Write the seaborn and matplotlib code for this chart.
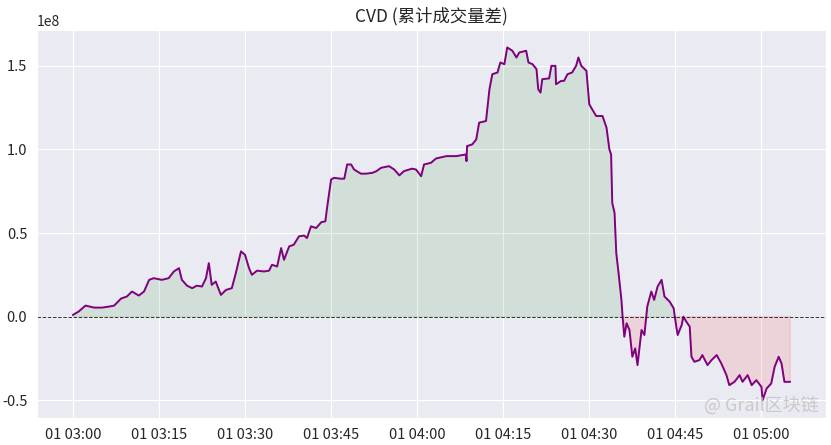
import numpy as np
import pandas as pd
import matplotlib
matplotlib.use("Agg")
import matplotlib.pyplot as plt
import matplotlib.dates as mdates
import seaborn as sns

# minutes after 03:00 and cumulative volume delta (units of 1e8)
minutes = [
    0.0, 1.0, 2.2, 3.7, 5.1, 6.3, 7.2, 8.4, 9.4, 10.3, 11.5, 12.4, 13.3, 14.1,
    15.5, 16.7, 17.6, 18.5, 19.0, 19.9, 20.8, 21.6, 22.5, 23.2, 23.7, 24.2,
    24.9, 25.8, 26.7, 27.7, 28.4, 29.3, 30.0, 30.7, 31.2, 32.1, 33.3, 34.2,
    34.7, 35.6, 36.3, 36.8, 37.7, 38.5, 39.4, 40.3, 40.8, 41.5, 42.4, 43.3,
    44.0, 44.3, 45.0, 45.5, 46.7, 47.3, 47.8, 48.5, 49.0, 50.2, 51.1, 52.2,
    52.9, 53.7, 55.1, 56.0, 56.9, 57.7, 59.1, 59.8, 60.7, 61.2, 62.4, 63.3,
    65.1, 66.8, 67.7, 68.5, 68.6, 68.7, 69.6, 70.3, 70.8, 72.0, 72.6, 73.1,
    74.0, 74.5, 75.2, 75.7, 76.6, 77.3, 77.8, 79.0, 79.4, 80.1, 80.8, 81.1,
    81.5, 81.8, 83.0, 83.4, 84.1, 84.2, 85.1, 85.6, 86.2, 87.0, 87.7, 88.1,
    88.6, 89.5, 89.7, 90.0, 90.5, 91.2, 92.3, 93.0, 93.5, 93.8, 94.0, 94.4,
    94.7, 95.1, 95.6, 95.8, 96.1, 96.5, 97.0, 97.5, 98.0, 98.4, 99.1, 99.6,
    100.1, 100.8, 101.3, 101.9, 102.6, 103.1, 104.0, 104.7, 105.2, 105.4,
    106.1, 106.4, 106.9, 107.5, 107.8, 108.3, 109.2, 109.7, 110.6, 111.3,
    112.2, 113.0, 113.9, 114.4, 115.3, 116.2, 116.7, 117.6, 118.3, 119.1,
    120.0, 120.2, 120.9, 121.7, 122.3, 123.0, 123.5, 124.0, 125.0,
]
cvd = [
    0.01, 0.03, 0.066, 0.054, 0.054, 0.06, 0.066, 0.108, 0.12, 0.15, 0.126,
    0.15, 0.22, 0.23, 0.22, 0.23, 0.27, 0.29, 0.22, 0.185, 0.17, 0.185, 0.18,
    0.23, 0.32, 0.19, 0.21, 0.13, 0.16, 0.17, 0.26, 0.39, 0.37, 0.29, 0.25,
    0.275, 0.27, 0.275, 0.31, 0.30, 0.41, 0.34, 0.42, 0.43, 0.48, 0.485, 0.47,
    0.54, 0.53, 0.565, 0.57, 0.65, 0.82, 0.83, 0.825, 0.825, 0.91, 0.91, 0.88,
    0.855, 0.855, 0.86, 0.87, 0.89, 0.90, 0.88, 0.845, 0.87, 0.885, 0.88,
    0.84, 0.91, 0.92, 0.946, 0.96, 0.96, 0.965, 0.97, 0.93, 1.02, 1.03, 1.06,
    1.16, 1.17, 1.36, 1.45, 1.46, 1.52, 1.51, 1.61, 1.59, 1.55, 1.58, 1.59,
    1.52, 1.51, 1.48, 1.36, 1.34, 1.42, 1.425, 1.50, 1.50, 1.39, 1.41, 1.41,
    1.45, 1.46, 1.50, 1.55, 1.50, 1.47, 1.39, 1.27, 1.24, 1.20, 1.20, 1.13,
    1.00, 0.97, 0.68, 0.62, 0.38, 0.26, 0.10, 0.0, -0.12, -0.04, -0.08, -0.24,
    -0.19, -0.29, -0.08, -0.11, 0.06, 0.15, 0.10, 0.18, 0.22, 0.12, 0.09,
    0.05, -0.07, -0.11, -0.05, 0.0, -0.03, -0.06, -0.24, -0.27, -0.26, -0.23,
    -0.29, -0.26, -0.23, -0.28, -0.35, -0.41, -0.39, -0.35, -0.39, -0.35,
    -0.41, -0.38, -0.42, -0.50, -0.43, -0.40, -0.30, -0.24, -0.28, -0.39,
    -0.39,
]

start = pd.Timestamp("2024-03-01 03:00")
df = pd.DataFrame({
    "time": start + pd.to_timedelta(minutes, unit="min"),
    "cvd": np.array(cvd) * 1e8,
})

sns.set_style("darkgrid")
plt.rcParams["font.family"] = ["Noto Sans CJK SC", "DejaVu Sans"]
plt.rcParams["axes.unicode_minus"] = False

fig, ax = plt.subplots(figsize=(8.31, 4.45), dpi=100)
sns.lineplot(data=df, x="time", y="cvd", color="purple", linewidth=1.4,
             estimator=None, ax=ax)
ax.fill_between(df["time"], df["cvd"], 0, where=df["cvd"] >= 0,
                color="green", alpha=0.1)
ax.fill_between(df["time"], df["cvd"], 0, where=df["cvd"] < 0,
                color="red", alpha=0.1)
ax.axhline(0, color="black", linestyle="--", linewidth=0.7, alpha=0.8)

ax.set_title("CVD (累计成交量差)", fontsize=12.5)
ax.set_xlabel("")
ax.set_ylabel("")
ax.xaxis.set_major_locator(mdates.MinuteLocator(byminute=[0, 15, 30, 45]))
ax.xaxis.set_major_formatter(mdates.DateFormatter("%d %H:%M"))
ax.tick_params(labelsize=10.5)

# watermark, kept just above the tick labels
fig.text(0.985, 0.068, "@ Grail区块链", ha="right", va="bottom",
         fontsize=13, color="#c4c4c4", alpha=0.85)

plt.subplots_adjust(left=0.0445, right=0.994, top=0.933, bottom=0.061)
plt.savefig("out.png", dpi=100)
plt.close(fig)
